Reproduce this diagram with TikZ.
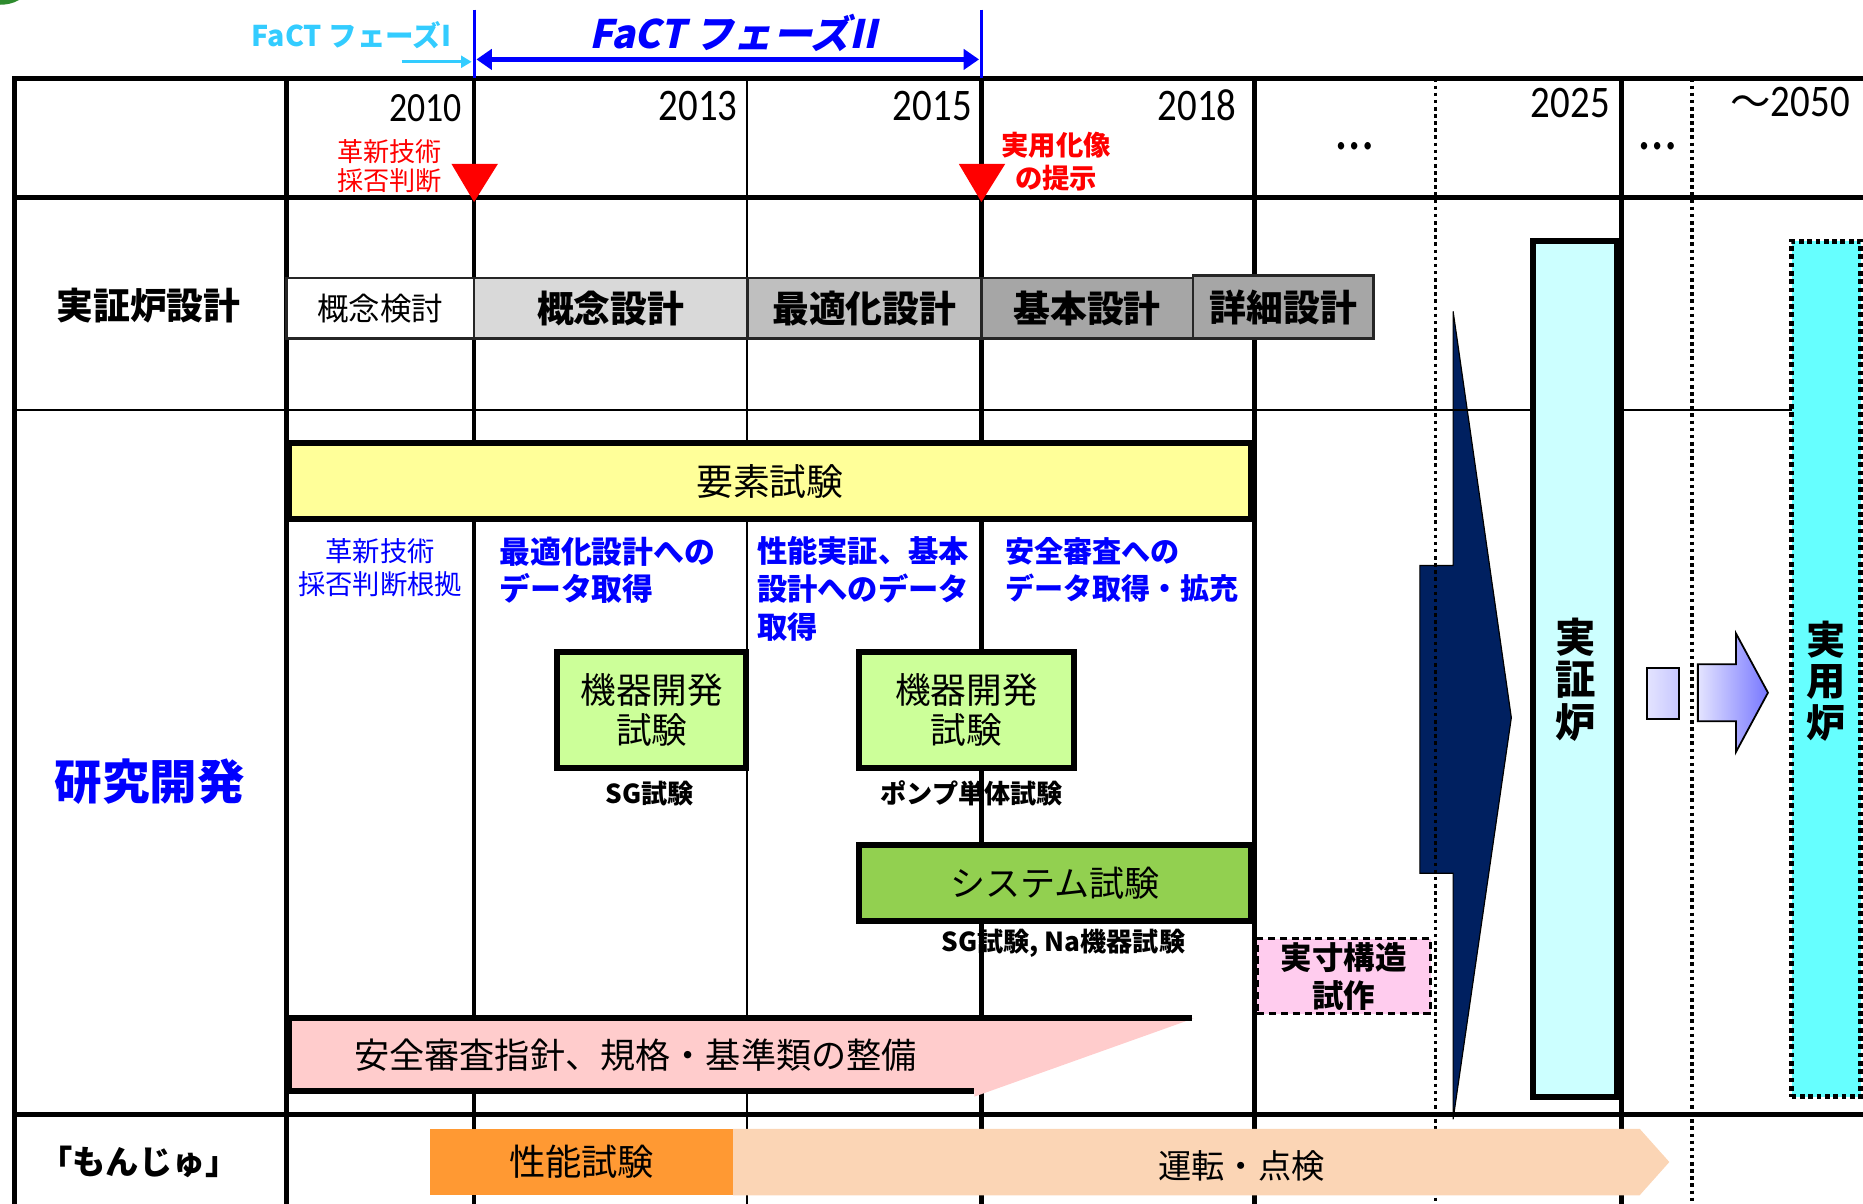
\documentclass[tikz,border=0pt]{standalone}
\usepackage{fontspec}
\setmainfont{Noto Sans CJK JP}
\newfontfamily\yearfont[FakeStretch=0.86]{Carlito}
\newfontfamily\phasefont[FakeSlant=0.22]{Noto Sans CJK JP}
\usetikzlibrary{arrows.meta}
\newcommand{\fsz}[2]{\fontsize{#1}{#2}\selectfont}

\definecolor{phaseone}{HTML}{33CCFF}
\definecolor{designA}{HTML}{D9D9D9}
\definecolor{designB}{HTML}{BFBFBF}
\definecolor{designC}{HTML}{A6A6A6}
\definecolor{elemyellow}{HTML}{FFFF99}
\definecolor{kikigreen}{HTML}{CCFF99}
\definecolor{sysgreen}{HTML}{92D050}
\definecolor{protopink}{HTML}{FFCCEE}
\definecolor{guidepink}{HTML}{FFCCCC}
\definecolor{navyarrow}{HTML}{002060}
\definecolor{democyan}{HTML}{CCFFFF}
\definecolor{praccyan}{HTML}{66FFFF}
\definecolor{perforange}{HTML}{FF9933}
\definecolor{opspeach}{HTML}{FBD5B5}
\definecolor{lavlight}{HTML}{E4E4FF}
\definecolor{lavmid}{HTML}{C8C8FF}
\definecolor{lavdark}{HTML}{7777FF}
\definecolor{leafgreen}{HTML}{2E8B2E}

\tikzset{
  gridline/.style={line width=4pt, line cap=rect},
  thinline/.style={line width=1.5pt},
  dotline/.style={line width=3pt, dash pattern=on 3pt off 3pt},
  year/.style={anchor=base east, inner sep=0pt, font=\yearfont\fsz{38}{40}},
  stagebox/.style={draw=black!85, line width=2pt, inner sep=0pt, minimum height=51pt},
  testbox/.style={draw=black, line width=5pt, inner sep=0pt, align=center},
  bluenote/.style={text=blue, inner sep=0pt, align=left, anchor=west},
  under/.style={inner sep=0pt, font=\bfseries\fsz{22}{24}},
  ellip/.style={inner sep=0pt, font=\yearfont\fsz{52}{54}},
}

\begin{document}
\begin{tikzpicture}[x=1pt, y=-1pt]
\useasboundingbox (0,0) rectangle (1568,1013);

% leaf fragment top left
\fill[leafgreen] (0,0) -- (16,0) .. controls (11,3) and (5,4) .. (0,4) -- cycle;

% navy arrow into the demo reactor
\fill[navyarrow, draw=black, line width=1pt] (1223,262) -- (1272,604) -- (1223,942)
  -- (1223,735) -- (1195,735) -- (1195,476) -- (1223,476) -- cycle;

% grid
\draw[gridline] (12,66) -- (1568,66);
\draw[gridline] (12,166) -- (1568,166);
\draw[gridline] (12,938) -- (1568,938);
\draw[line width=2pt] (12,345) -- (1508,345);
\foreach \x in {12,241,399,826,1056,1365}
  \draw[gridline] (\x,66) -- (\x,1013);
\draw[thinline] (629,66) -- (629,1013);
\foreach \x in {1208,1424}
  \draw[dotline] (\x,66) -- (\x,1013);

% phases
\draw[blue, line width=2.5pt] (399,8) -- (399,66);
\draw[blue, line width=2.5pt] (826,8) -- (826,66);
\node[anchor=east, inner sep=0pt, text=phaseone, font=\bfseries\fsz{24}{26}] (phaseI) at (380,30) {FaCT フェーズI};
\node[inner sep=0pt, text=blue, font=\phasefont\bfseries\fsz{33}{36}] (phaseII) at (617,28) {FaCT フェーズII};
\coordinate (p1s) at (338,52);
\coordinate (p1e) at (397,52);
\coordinate (p2s) at (401,50);
\coordinate (p2e) at (824,50);
\draw[phaseone, line width=2.5pt, -{Triangle[length=9pt,width=10pt]}] (p1s) -- (p1e);
\draw[blue, line width=4pt, {Triangle[length=13pt,width=17pt]}-{Triangle[length=13pt,width=17pt]}] (p2s) -- (p2e);

% years
\node[year, font=\yearfont\fsz{35}{36}] (y2010) at (389,102) {2010};
\node[year] (y2013) at (621,101) {2013};
\node[year] (y2015) at (818,101) {2015};
\node[year] (y2018) at (1041,101) {2018};
\node[year] (y2025) at (1355,99) {2025};
\node[year] (y2050) at (1557,98) {{\rmfamily\fsz{34}{36}～}2050};
\node[ellip] (dotsA) at (1140,123) {…};
\node[ellip] (dotsB) at (1395,123) {…};

% milestones
\fill[red] (380,138) -- (419,138) -- (399,170) -- cycle;
\fill[red] (807,138) -- (846,138) -- (826,170) -- cycle;
\node[inner sep=0pt, align=center, text=red, font=\fsz{22}{24}] (kakushin) at (328,140) {革新技術\\採否判断};
\node[inner sep=0pt, align=center, text=red, font=\bfseries\fsz{23}{28}] (jitsuyou) at (889,136) {実用化像\\の提示};

% row labels
\node[inner sep=0pt, font=\bfseries\fsz{31}{34}] (rowdesign) at (125,257) {実証炉設計};
\node[inner sep=0pt, text=blue, font=\bfseries\fsz{40}{44}] (rowrd) at (126,658) {研究開発};
\node[inner sep=0pt, font=\bfseries\fsz{28}{30}] (rowmonju) at (117,978) {「もんじゅ」};

% design stages
\node[stagebox, fill=white, minimum width=158pt, font=\fsz{26.5}{28}] (kentou) at (320,259.5) {概念検討};
\node[stagebox, fill=designA, minimum width=230pt, font=\bfseries\fsz{31}{34}] (gainen) at (514,259.5) {概念設計};
\node[stagebox, fill=designB, minimum width=197pt, font=\bfseries\fsz{31}{34}] (saiteki) at (727.5,259.5) {最適化設計};
\node[stagebox, fill=designC, minimum width=178pt, font=\bfseries\fsz{31}{34}] (kihon) at (915,259.5) {基本設計};
\node[stagebox, fill=designC, minimum width=152pt, minimum height=53pt, font=\bfseries\fsz{31}{34}] (shousai) at (1080,258.5) {詳細設計};

% research and development
\node[testbox, fill=elemyellow, minimum width=810pt, minimum height=64pt, font=\fsz{31}{34}] (youso) at (648,405) {要素試験};
\node[bluenote, align=center, anchor=center, font=\fsz{23}{28}] (konkyo) at (320,478) {革新技術\\採否判断根拠};
\node[bluenote, font=\bfseries\fsz{26}{31}] (saitekidata) at (420,480) {最適化設計への\\データ取得};
\node[bluenote, font=\bfseries\fsz{25.5}{32}] (seinoudata) at (637,496) {性能実証、基本\\設計へのデータ\\取得};
\node[bluenote, font=\bfseries\fsz{24.5}{31}] (anzendata) at (846,480) {安全審査への\\データ取得・拡充};

\node[testbox, fill=kikigreen, minimum width=159pt, minimum height=97pt, font=\fsz{30}{34}] (kikiA) at (548.5,597.5) {機器開発\\試験};
\node[testbox, fill=kikigreen, minimum width=181pt, minimum height=97pt, font=\fsz{30}{34}] (kikiB) at (813.5,597.5) {機器開発\\試験};
\node[under] (sgA) at (547,668) {SG試験};
\node[under] (pump) at (818,668) {ポンプ単体試験};
\node[testbox, fill=sysgreen, minimum width=330pt, minimum height=64pt, font=\fsz{29.5}{32}] (system) at (888,743) {システム試験};
\node[under] (sgna) at (895,794) {SG試験, Na機器試験};
\node[draw=black, line width=2.5pt, dash pattern=on 6pt off 4pt, fill=protopink, inner sep=0pt,
  minimum width=146pt, minimum height=63pt, align=center, font=\bfseries\fsz{26.5}{32}] (jissun) at (1131,821.5) {実寸構造\\試作};

% guideline arrow
\fill[guidepink] (243,857) -- (1005,857) -- (820,923) -- (820,918) -- (243,918) -- cycle;
\draw[line width=5pt] (1003,857) -- (243,857) -- (243,918) -- (820,918);
\node[inner sep=0pt, font=\fsz{29.6}{32}] (guide) at (535,888) {安全審査指針、規格・基準類の整備};

% reactors
\node[draw=black, line width=5pt, fill=democyan, minimum width=71pt, minimum height=720pt, inner sep=0pt] (demo) at (1325.5,563) {};
\node[inner sep=0pt, align=center, font=\bfseries\fsz{34}{36}] (demotext) at (1326,572) {実\\証\\炉};
\node[draw=black, line width=4pt, dash pattern=on 4pt off 3pt, fill=praccyan, minimum width=58pt,
  minimum height=720pt, inner sep=0pt] (prac) at (1537,563) {};
\node[inner sep=0pt, align=center, font=\bfseries\fsz{33}{35}] (practext) at (1537,573) {実\\用\\炉};
\shade[left color=lavlight, right color=lavmid, draw=black, line width=1.5pt] (1386,562) rectangle (1413,605);
\shade[left color=lavlight, right color=lavdark, draw=black, line width=1.5pt] (1429,559) -- (1461,559)
  -- (1461,533) -- (1488,583) -- (1461,633) -- (1461,607) -- (1429,607) -- cycle;

% monju
\node[fill=perforange, minimum width=255pt, minimum height=56pt, inner sep=0pt, font=\fsz{30.5}{32}] (perf) at (489.5,978) {性能試験};
\fill[opspeach] (617,950) -- (1380,950) -- (1405,978) -- (1380,1006) -- (617,1006) -- cycle;
\node[inner sep=0pt, font=\fsz{28}{30}] (unten) at (1045,981) {運転・点検};
\end{tikzpicture}
\end{document}
